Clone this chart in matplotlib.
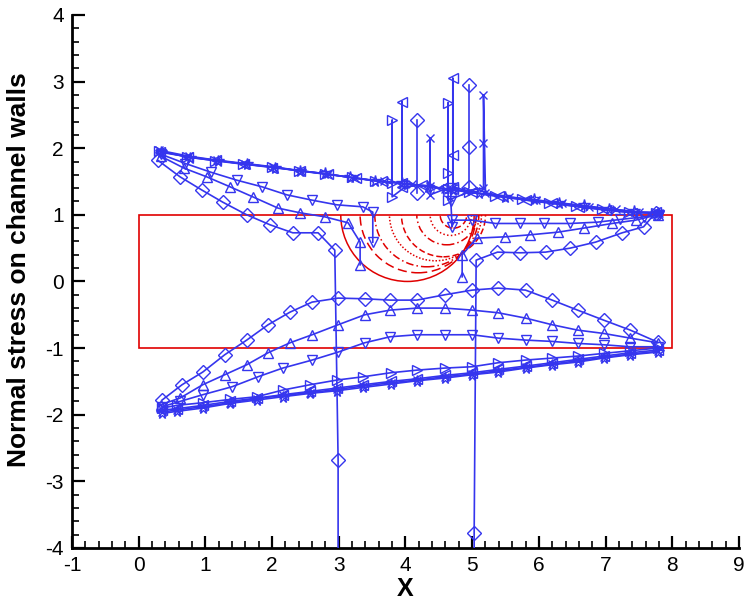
import numpy as np
import matplotlib.pyplot as plt
from matplotlib.patches import Rectangle, Circle
from matplotlib.ticker import MultipleLocator

plt.rcParams['font.family'] = ['Liberation Sans', 'DejaVu Sans']
plt.rcParams['axes.unicode_minus'] = False

nan = np.nan

# ---- upper wall, near-coincident bundle (with spikes) ----
star_top_x = [0.33, 0.77, 1.19, 1.62, 2.04, 2.42, 2.79, 3.17, 3.54, 3.95, 4.34, 4.72, 5.10, 5.50, 5.92, 6.30, 6.67, 7.05, 7.42, 7.78]
star_top_y = [1.95, 1.86, 1.81, 1.76, 1.71, 1.66, 1.62, 1.56, 1.51, 1.47, 1.42, 1.37, 1.32, 1.27, 1.23, 1.18, 1.14, 1.09, 1.05, 1.02]

xm_top_x = [0.30, 0.75, 1.17, 1.60, 2.02, 2.44, 2.84, 3.25, 3.68, 4.10, 4.37, 4.37, 4.37, 4.60, 4.90, 5.17, 5.17, 5.17, 5.20, 5.55, 5.95, 6.35, 6.75, 7.15, 7.50, 7.80]
xm_top_y = [1.97, 1.88, 1.82, 1.77, 1.72, 1.66, 1.61, 1.55, 1.50, 1.46, 1.43, 2.15, 1.30, 1.39, 1.36, 1.40, 2.08, 2.80, 1.33, 1.27, 1.22, 1.17, 1.12, 1.08, 1.04, 1.03]

rt_top_x = [0.31, 0.72, 1.15, 1.57, 2.00, 2.40, 2.80, 3.20, 3.55, 3.80, 3.80, 3.80, 4.05, 4.40, 4.64, 4.64, 4.64, 4.64, 4.95, 5.35, 5.75, 6.15, 6.55, 6.95, 7.35, 7.75]
rt_top_y = [1.96, 1.87, 1.81, 1.76, 1.72, 1.66, 1.61, 1.56, 1.51, 1.47, 2.42, 1.27, 1.46, 1.42, 1.38, 1.63, 2.68, 1.22, 1.34, 1.28, 1.23, 1.18, 1.13, 1.08, 1.04, 1.02]

lt_top_x = [0.32, 0.74, 1.16, 1.58, 2.00, 2.42, 2.84, 3.26, 3.65, 3.95, 3.95, 3.95, 4.25, 4.55, 4.71, 4.71, 4.71, 4.71, 5.00, 5.40, 5.80, 6.20, 6.60, 7.00, 7.40, 7.76]
lt_top_y = [1.94, 1.87, 1.82, 1.76, 1.71, 1.66, 1.61, 1.55, 1.50, 1.48, 2.70, 1.42, 1.44, 1.40, 1.38, 1.90, 3.05, 1.42, 1.34, 1.28, 1.22, 1.17, 1.12, 1.07, 1.03, 1.04]

dm2_top_x = [4.17, 4.17, nan, 4.95, 4.95, 4.95]
dm2_top_y = [1.33, 2.42, nan, 1.42, 2.02, 2.95]

# ---- upper wall, separated curves ----
dn_top_x = [0.33, 0.70, 1.08, 1.47, 1.85, 2.22, 2.60, 2.97, 3.36, 3.51, 3.51, nan, 4.68, 4.68, 4.70, 4.70, 5.00, 5.35, 5.72, 6.07, 6.47, 6.88, 7.22, 7.57, 7.80]
dn_top_y = [1.91, 1.77, 1.64, 1.52, 1.42, 1.30, 1.22, 1.15, 1.12, 1.04, 0.59, nan, 1.40, 1.20, 0.82, 0.92, 0.92, 0.87, 0.87, 0.87, 0.87, 0.89, 0.93, 0.97, 1.00]

up_top_x = [0.33, 0.68, 1.02, 1.37, 1.71, 2.09, 2.42, 2.79, 3.14, 3.32, 3.32, nan, 4.85, 4.85, 5.07, 5.50, 5.87, 6.29, 6.67, 7.10, 7.45, 7.78]
up_top_y = [1.88, 1.70, 1.57, 1.42, 1.27, 1.10, 1.03, 0.97, 0.88, 0.59, 0.25, nan, 0.07, 0.40, 0.65, 0.67, 0.70, 0.74, 0.80, 0.87, 0.92, 1.00]

dm_top_x = [0.285, 0.62, 0.95, 1.26, 1.62, 1.97, 2.31, 2.69, 2.94, 2.99, 2.99, nan, 5.03, 5.03, 5.06, 5.38, 5.72, 6.10, 6.47, 6.85, 7.25, 7.57, 7.75]
dm_top_y = [1.82, 1.57, 1.37, 1.19, 1.00, 0.85, 0.73, 0.73, 0.47, -2.68, -6.0, nan, -6.0, -3.78, 0.32, 0.44, 0.43, 0.44, 0.50, 0.59, 0.73, 0.82, 1.03]

# ---- lower wall ----
low_x = [0.35, 0.57, 0.96, 1.37, 1.77, 2.16, 2.57, 2.97, 3.37, 3.78, 4.18, 4.59, 5.00, 5.39, 5.80, 6.20, 6.58, 6.97, 7.37, 7.78]
star_low_y = [-1.98, -1.95, -1.90, -1.83, -1.78, -1.73, -1.68, -1.64, -1.59, -1.54, -1.49, -1.45, -1.40, -1.36, -1.30, -1.25, -1.21, -1.15, -1.10, -1.06]
xm_low_y = [-1.96, -1.93, -1.88, -1.82, -1.76, -1.71, -1.67, -1.62, -1.57, -1.52, -1.48, -1.43, -1.39, -1.34, -1.29, -1.24, -1.19, -1.14, -1.09, -1.05]
lt_low_y = [-1.93, -1.91, -1.86, -1.80, -1.75, -1.70, -1.65, -1.60, -1.55, -1.50, -1.46, -1.41, -1.37, -1.32, -1.27, -1.22, -1.17, -1.12, -1.07, -1.03]
rt_low_y = [-1.90, -1.86, -1.82, -1.77, -1.73, -1.63, -1.55, -1.48, -1.43, -1.37, -1.33, -1.30, -1.28, -1.22, -1.18, -1.15, -1.12, -1.08, -1.04, -1.00]

dn_low_x = [0.35, 0.62, 0.96, 1.40, 1.79, 2.16, 2.60, 2.99, 3.39, 3.77, 4.17, 4.59, 5.00, 5.39, 5.80, 6.20, 6.58, 6.97, 7.37, 7.78]
dn_low_y = [-1.88, -1.80, -1.70, -1.58, -1.43, -1.30, -1.18, -1.06, -0.92, -0.83, -0.80, -0.80, -0.80, -0.85, -0.88, -0.90, -0.93, -0.95, -0.98, -0.98]

up_low_x = [0.33, 0.62, 0.96, 1.29, 1.62, 1.94, 2.27, 2.60, 2.99, 3.39, 3.77, 4.17, 4.59, 5.00, 5.39, 5.80, 6.20, 6.58, 6.97, 7.37, 7.78]
up_low_y = [-1.85, -1.75, -1.55, -1.40, -1.25, -1.07, -0.92, -0.80, -0.65, -0.50, -0.43, -0.40, -0.40, -0.43, -0.47, -0.55, -0.65, -0.73, -0.78, -0.85, -0.92]

dm_low_x = [0.35, 0.65, 0.96, 1.29, 1.62, 1.94, 2.27, 2.60, 2.99, 3.39, 3.77, 4.17, 4.59, 5.00, 5.39, 5.80, 6.20, 6.58, 6.97, 7.37, 7.78]
dm_low_y = [-1.78, -1.55, -1.36, -1.10, -0.88, -0.65, -0.46, -0.31, -0.25, -0.26, -0.28, -0.28, -0.20, -0.13, -0.10, -0.13, -0.28, -0.43, -0.58, -0.73, -0.91]

# ---- red contour arcs below the upper wall (centres on y = 1) ----
arc_cx = [4.03, 4.19, 4.32, 4.45, 4.57, 4.62, 4.68, 4.72]
arc_cy = [1.0, 1.0, 1.0, 1.0, 1.0, 1.0, 1.0, 1.0]
arc_r = [1.00, 0.87, 0.78, 0.69, 0.63, 0.45, 0.31, 0.20]
arc_ls = ['-', (0, (6, 3)), (0, (5, 2, 1, 2)), (0, (1, 1.2)), (0, (4, 2)), (0, (5, 2, 1, 2)), (0, (1, 1.5)), (0, (5, 2))]

blue = '#3535ee'
red = '#e00000'

fig = plt.figure(figsize=(7.51, 6.01), dpi=100)
ax = fig.add_axes([0.0959, 0.0882, 0.888, 0.887])

# channel box
box = Rectangle((0, -1), 8, 2, fill=False, edgecolor=red, lw=1.2, zorder=2)
ax.add_patch(box)
for cx, cy, r, ls in zip(arc_cx, arc_cy, arc_r, arc_ls):
    c = Circle((cx, cy), r, fill=False, edgecolor=red, lw=1.1, linestyle=ls, zorder=2)
    ax.add_patch(c)
    c.set_clip_path(box)

def curve(x, y, m, ms=7.5):
    ax.plot(x, y, color=blue, lw=1.2, marker=m, ms=ms, mfc='none', mec=blue, mew=1.0, zorder=3)

curve(star_top_x, star_top_y, '*', 8.5)
curve(xm_top_x, xm_top_y, 'x', 5.5)
curve(rt_top_x, rt_top_y, '>')
curve(lt_top_x, lt_top_y, '<')
ax.plot(dm2_top_x, dm2_top_y, color=blue, lw=1.2, marker='D', ms=7, mfc='none', mec=blue, zorder=3)
curve(dn_top_x, dn_top_y, 'v')
curve(up_top_x, up_top_y, '^')
curve(dm_top_x, dm_top_y, 'D', 7)

curve(low_x, star_low_y, '*', 8.5)
curve(low_x, xm_low_y, 'x', 5.5)
curve(low_x, lt_low_y, '<')
curve(low_x, rt_low_y, '>')
curve(dn_low_x, dn_low_y, 'v')
curve(up_low_x, up_low_y, '^')
curve(dm_low_x, dm_low_y, 'D', 7)

ax.set_xlim(-1, 9)
ax.set_ylim(-4, 4)
ax.spines['top'].set_visible(False)
ax.spines['right'].set_visible(False)
ax.spines['left'].set_linewidth(2)
ax.spines['bottom'].set_linewidth(2)
ax.xaxis.set_major_locator(MultipleLocator(1))
ax.xaxis.set_minor_locator(MultipleLocator(0.2))
ax.yaxis.set_major_locator(MultipleLocator(1))
ax.yaxis.set_minor_locator(MultipleLocator(0.2))
ax.tick_params(which='major', direction='in', length=9, width=1.6, labelsize=15, pad=6)
ax.tick_params(which='minor', direction='in', length=5, width=1.2)
ax.tick_params(top=False, right=False, which='both')

ax.set_xlabel('X', fontsize=18, fontweight='bold', labelpad=1)
ax.set_ylabel('Normal stress on channel walls', fontsize=19, fontweight='bold')
ax.yaxis.set_label_coords(-0.062, 0.522)

fig.savefig('out.png', dpi=100)
